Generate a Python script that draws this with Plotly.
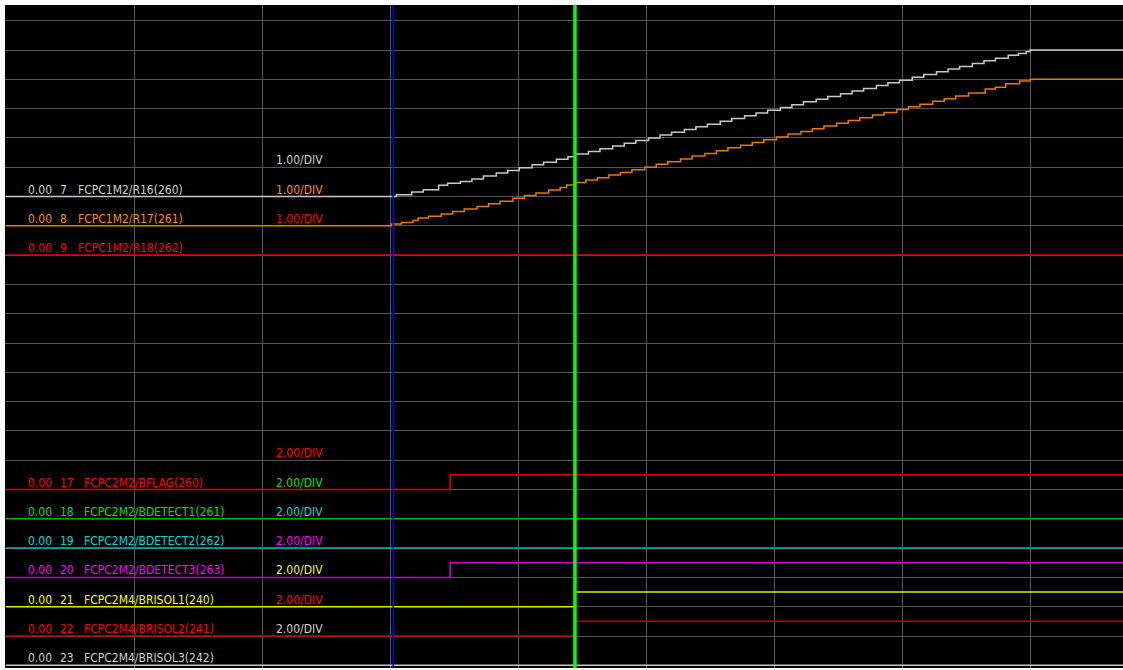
import plotly.graph_objects as go

# ---------------- data ----------------
# time axis in divisions; values in engineering units
gray7_t = [0, 3.05, 3.17, 3.26, 3.38, 3.45, 3.55, 3.64, 3.73, 3.83, 3.92, 4.01, 4.11, 4.20, 4.30, 4.39,
           4.45, 4.55, 4.64, 4.74, 4.83, 4.92, 5.02, 5.11, 5.20, 5.30, 5.39, 5.48, 5.58, 5.67, 5.77,
           5.86, 5.95, 6.05, 6.14, 6.23, 6.33, 6.42, 6.52, 6.61, 6.70, 6.80, 6.89, 6.98, 7.08, 7.17,
           7.27, 7.36, 7.45, 7.55, 7.64, 7.73, 7.83, 7.91, 7.97, 8.00, 8.73]
gray7_v = [0, 0.06, 0.15, 0.23, 0.38, 0.45, 0.51, 0.60, 0.70, 0.80, 0.89, 0.98, 1.08, 1.17, 1.27, 1.36,
           1.45, 1.54, 1.63, 1.72, 1.82, 1.91, 2.00, 2.10, 2.19, 2.29, 2.38, 2.47, 2.57, 2.66, 2.76,
           2.85, 2.94, 3.04, 3.13, 3.23, 3.32, 3.41, 3.51, 3.60, 3.69, 3.79, 3.88, 3.97, 4.07, 4.16,
           4.26, 4.35, 4.44, 4.54, 4.63, 4.72, 4.82, 4.88, 4.95, 5.00, 5.00]

orange8_t = [0, 3.01, 3.09, 3.18, 3.22, 3.30, 3.40, 3.49, 3.58, 3.68, 3.77, 3.86, 3.96, 4.05, 4.14, 4.24,
             4.33, 4.38, 4.45, 4.53, 4.62, 4.71, 4.80, 4.89, 4.99, 5.08, 5.17, 5.27, 5.36, 5.46, 5.55,
             5.64, 5.74, 5.83, 5.92, 6.02, 6.11, 6.21, 6.30, 6.39, 6.49, 6.58, 6.67, 6.77, 6.86, 6.96,
             7.05, 7.14, 7.24, 7.33, 7.42, 7.52, 7.65, 7.73, 7.81, 7.92, 8.00, 8.73]
orange8_v = [0, 0.06, 0.11, 0.18, 0.27, 0.33, 0.40, 0.49, 0.57, 0.66, 0.75, 0.84, 0.94, 1.03, 1.12, 1.22,
             1.31, 1.39, 1.48, 1.56, 1.64, 1.73, 1.82, 1.91, 2.00, 2.10, 2.19, 2.28, 2.38, 2.47, 2.56,
             2.66, 2.75, 2.84, 2.94, 3.03, 3.13, 3.22, 3.31, 3.41, 3.50, 3.59, 3.69, 3.78, 3.87, 3.97,
             4.06, 4.15, 4.25, 4.34, 4.43, 4.53, 4.67, 4.73, 4.85, 4.94, 5.00, 5.00]

flat_t = [0, 8.73]
flat_v = [0, 0]

flag17_t = [0, 3.47, 8.73]
flag17_v = [0, 1, 1]
det20_t = [0, 3.47, 8.73]
det20_v = [0, 1, 1]
sol21_t = [0, 4.445, 8.73]
sol21_v = [0, 1, 1]
sol22_t = [0, 4.445, 8.73]
sol22_v = [0, 1, 1]

cursor_t = 4.445
marker_t = 3.025

# channel table
ch_num = ["7", "8", "9", "17", "18", "19", "20", "21", "22", "23"]
ch_name = ["FCPC1M2/R16(260)", "FCPC1M2/R17(261)", "FCPC1M2/R18(262)",
           "FCPC2M2/BFLAG(260)", "FCPC2M2/BDETECT1(261)", "FCPC2M2/BDETECT2(262)",
           "FCPC2M2/BDETECT3(263)", "FCPC2M4/BRISOL1(240)", "FCPC2M4/BRISOL2(241)",
           "FCPC2M4/BRISOL3(242)"]
ch_offset_label = ["0.00"] * 10
ch_div = [1.0, 1.0, 1.0, 2.0, 2.0, 2.0, 2.0, 2.0, 2.0, 2.0]
ch_div_label = ["1.00/DIV", "1.00/DIV", "1.00/DIV", "2.00/DIV", "2.00/DIV", "2.00/DIV",
                "2.00/DIV", "2.00/DIV", "2.00/DIV", "2.00/DIV"]
ch_t = [gray7_t, orange8_t, flat_t, flag17_t, flat_t, flat_t, det20_t, sol21_t, sol22_t, flat_t]
ch_v = [gray7_v, orange8_v, flat_v, flag17_v, flat_v, flat_v, det20_v, sol21_v, sol22_v, flat_v]

# ---------------- style ----------------
ch_row = [16, 15, 14, 6, 5, 4, 3, 2, 1, 0]
ch_line_color = ["#c8c8c8", "#e87800", "#e00000", "#e00000", "#00b400", "#00b4b4",
                 "#d000d0", "#e8e800", "#c80000", "#c8c8c8"]
ch_text_color = ["#d0d0d0", "#ff8c00", "#ff0000", "#ff0000", "#00e000", "#00d8d8",
                 "#ff00ff", "#ffff00", "#ff0000", "#d0d0d0"]

W, H = 1123, 670
ML, MR, MT, MB = 5, 0, 5, 2
PXX = 128.0   # px per time division
PXY = 29.3    # px per vertical division
X0 = 1 - (134 - ML) / PXX
X1 = X0 + (W - ML - MR) / PXX
Y0 = -(668 - 665.3) / PXY
Y1 = (665.3 - MT) / PXY


def tx(px):
    return X0 + (px - ML) / PXX


FONT = "Liberation Sans Narrow, Arial Narrow, DejaVu Sans Condensed, sans-serif"

fig = go.Figure()

for i in range(len(ch_num)):
    ys = [ch_row[i] + v / ch_div[i] for v in ch_v[i]]
    fig.add_trace(go.Scatter(x=ch_t[i], y=ys, mode="lines", line_shape="hv",
                             line=dict(color=ch_line_color[i], width=1.5),
                             hoverinfo="skip", showlegend=False))

annotations = []
for i in range(len(ch_num)):
    col = ch_text_color[i]
    row = ch_row[i]
    name_px = 76 if len(ch_num[i]) == 1 else 82
    for txt, px, r in [(ch_offset_label[i], 26, row), (ch_num[i], 58, row),
                       (ch_name[i], name_px, row), (ch_div_label[i], 274, row + 1)]:
        annotations.append(dict(x=tx(px), y=r, xref="x", yref="y", text=txt,
                                showarrow=False, xanchor="left", yanchor="bottom",
                                yshift=-2, font=dict(family=FONT, size=12, color=col)))

shapes = [
    dict(type="line", x0=marker_t, x1=marker_t, y0=0, y1=1, xref="x", yref="paper",
         line=dict(color="#0000ff", width=1.5), layer="above"),
    dict(type="line", x0=cursor_t, x1=cursor_t, y0=0, y1=1, xref="x", yref="paper",
         line=dict(color="#00ff00", width=3.5), layer="above"),
]

fig.update_layout(
    width=W, height=H,
    margin=dict(l=ML, r=MR, t=MT, b=MB),
    paper_bgcolor="#ffffff", plot_bgcolor="#000000",
    xaxis=dict(range=[X0, X1], tickmode="array", tickvals=[1, 2, 3, 4, 5, 6, 7, 8],
               showticklabels=False, showgrid=True, gridcolor="#555555", gridwidth=1,
               zeroline=False, showline=False, ticks=""),
    yaxis=dict(range=[Y0, Y1], tickmode="array", tickvals=list(range(0, 23)),
               showticklabels=False, showgrid=True, gridcolor="#555555", gridwidth=1,
               zeroline=False, showline=False, ticks=""),
    annotations=annotations,
    shapes=shapes,
)

fig.write_html("out.html")
